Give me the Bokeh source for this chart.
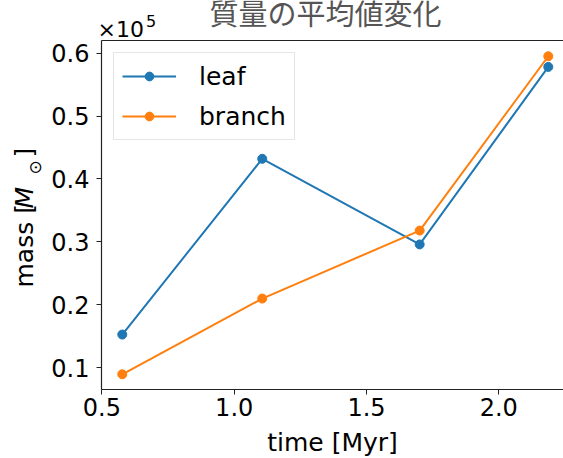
import math
from bokeh.plotting import figure
from bokeh.models import (Range1d, FixedTicker, LinearAxis, Legend, LegendItem)
from bokeh.layouts import column, row
from bokeh.core.properties import value
from bokeh.embed import file_html
from bokeh.resources import INLINE

# ---- data (mass in solar masses) ----
time_myr = [0.577, 1.106, 1.701, 2.187]
leaf_mass = [15280, 43200, 29600, 57800]
branch_mass = [8970, 21000, 31800, 59500]

x_ticks = [0.5, 1.0, 1.5, 2.0]
x_tick_labels = ["0.5", "1.0", "1.5", "2.0"]
y_ticks = [10000, 20000, 30000, 40000, 50000, 60000]
y_tick_labels = ["0.1", "0.2", "0.3", "0.4", "0.5", "0.6"]

title_text = "質量の平均値変化"
series_names = ["leaf", "branch"]
colors = ["#1f77b4", "#ff7f0e"]

FONT = "DejaVu Sans"
HEADER_H = 40
YLAB_W = 45
MAIN_TOP = 0
MAIN_H = 458 - HEADER_H


def blank_fig(w, h):
    f = figure(frame_width=w, frame_height=h, x_range=Range1d(0, w), y_range=Range1d(0, h),
               min_border=0, x_axis_location=None, y_axis_location=None, title=None,
               output_backend="svg", toolbar_location=None)
    f.outline_line_color = None
    f.grid.visible = False
    return f


# ---- header: title (cut at top) and offset text ----
hdr = blank_fig(563, HEADER_H)
hdr.text(x=[325], y=[HEADER_H - 11], text=[title_text],
         text_font=value("Noto Sans CJK JP"), text_font_size="29px",
         text_color="#555555", text_align="center", text_baseline="middle")
hdr.text(x=[97], y=[HEADER_H - 28.5], text=["×10"],
         text_font=value(FONT), text_font_size="22px",
         text_color="black", text_align="left", text_baseline="middle")
hdr.text(x=[145.5], y=[HEADER_H - 20.5], text=["5"],
         text_font=value(FONT), text_font_size="16px",
         text_color="black", text_align="left", text_baseline="middle")

# ---- main plot ----
p = figure(frame_width=462, frame_height=349,
           min_border_left=101 - YLAB_W, min_border_right=0,
           min_border_top=MAIN_TOP, min_border_bottom=69,
           x_range=Range1d(0.4985, 2.2445),
           y_range=Range1d(6550, 62000), title=None,
           output_backend="svg", toolbar_location=None,
           background_fill_color="white", border_fill_color="white")
p.outline_line_color = None
p.grid.visible = False

renderers = []
for ys, c in zip([leaf_mass, branch_mass], colors):
    l = p.line(time_myr, ys, line_color=c, line_width=2)
    s = p.scatter(time_myr, ys, size=9, fill_color=c, line_color=c)
    renderers.append([l, s])

for ax in [p.xaxis[0], p.yaxis[0]]:
    ax.axis_line_color = "#222222"
    ax.axis_line_width = 1.2
    ax.major_tick_line_color = "#222222"
    ax.major_tick_out = 5
    ax.major_tick_in = 0
    ax.minor_tick_line_color = None
    ax.major_label_text_font = FONT
    ax.major_label_text_font_size = "24px"
    ax.major_label_text_color = "black"

p.xaxis.ticker = FixedTicker(ticks=x_ticks)
p.xaxis.major_label_overrides = {t: s for t, s in zip(x_ticks, x_tick_labels)}
p.xaxis.major_label_standoff = 3
p.xaxis.axis_label = "time [Myr]"
p.xaxis.axis_label_text_font = FONT
p.xaxis.axis_label_text_font_size = "25px"
p.xaxis.axis_label_text_font_style = "normal"
p.xaxis.axis_label_text_color = "black"
p.xaxis.axis_label_standoff = 9

p.yaxis.ticker = FixedTicker(ticks=y_ticks)
p.yaxis.major_label_overrides = {t: s for t, s in zip(y_ticks, y_tick_labels)}
p.yaxis.major_label_standoff = 7

# top spine
top = LinearAxis(major_tick_line_color=None, minor_tick_line_color=None,
                 major_label_text_font_size="0px", major_label_standoff=0,
                 major_tick_out=0, axis_line_color="#222222", axis_line_width=1.2)
top.ticker = FixedTicker(ticks=[])
p.add_layout(top, "above")

items = [LegendItem(label=n, renderers=r) for n, r in zip(series_names, renderers)]
legend = Legend(items=items, location="top_left",
                label_text_font=FONT, label_text_font_size="25px",
                label_text_color="black",
                glyph_width=54, glyph_height=22, label_height=30,
                label_standoff=23, spacing=10, padding=8, margin=12,
                border_line_color="#cccccc", border_line_width=1,
                background_fill_alpha=0.8)
p.add_layout(legend)

# ---- y label panel: mass [M_sun] ----
ylab = blank_fig(YLAB_W, MAIN_H)
ang = math.pi / 2
ylab.text(x=[24], y=[458 - 287], text=["mass ["], angle=ang,
          text_font=value(FONT), text_font_size="25px", text_color="black",
          text_align="left", text_baseline="middle")
ylab.text(x=[24], y=[458 - 208], text=["M"], angle=ang,
          text_font=value(FONT), text_font_size="25px", text_font_style="italic",
          text_color="black", text_align="left", text_baseline="middle")
ylab.text(x=[34.5], y=[458 - 174], text=["⊙"], angle=ang,
          text_font=value(FONT), text_font_size="17px", text_color="black",
          text_align="left", text_baseline="middle")
ylab.text(x=[24], y=[458 - 157], text=["]"], angle=ang,
          text_font=value(FONT), text_font_size="25px", text_color="black",
          text_align="left", text_baseline="middle")

layout = column(hdr, row(ylab, p, spacing=0), spacing=0)
open("out.html", "w").write(file_html(layout, INLINE))
